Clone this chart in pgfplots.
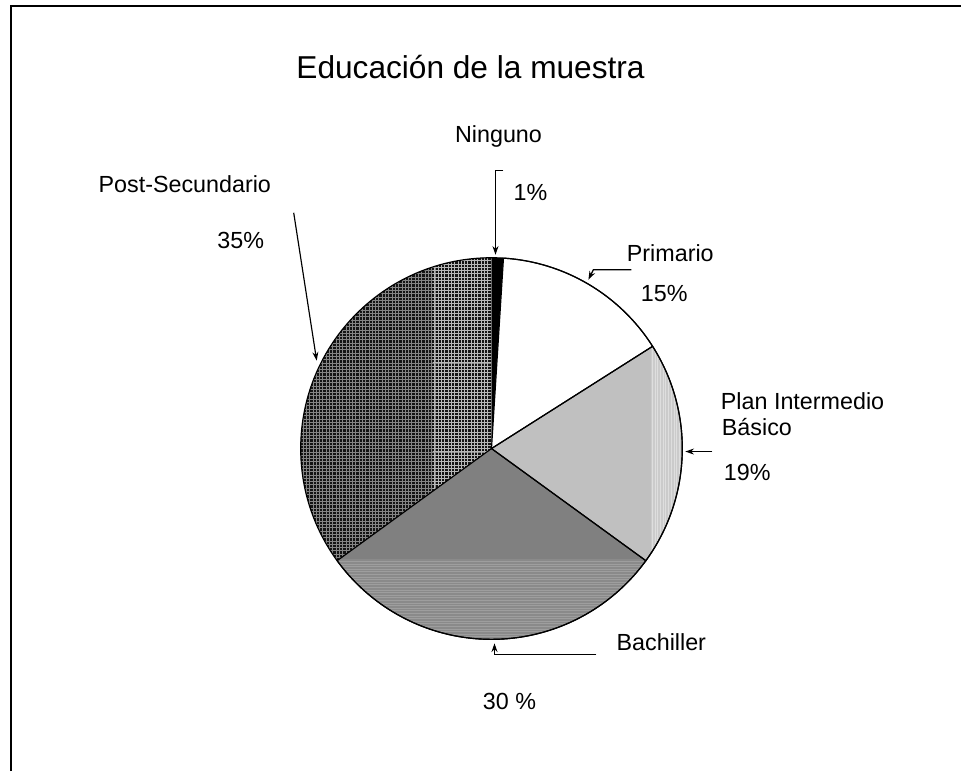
\documentclass[border=0pt]{standalone}
\usepackage{pgfplots}
\pgfplotsset{compat=1.18}
\usepackage{pgfplotstable}
\usepackage{fontspec}
\setmainfont{Liberation Sans}
\usetikzlibrary{arrows.meta}

\pgfplotstableread{
Categoria Porcentaje
Ninguno 1
Primario 15
PlanIntermedio 19
Bachiller 30
PostSecundario 35
}\datos

\definecolor{planG}{HTML}{C0C0C0}
\definecolor{planL}{HTML}{CBCBCB}
\definecolor{bachG}{HTML}{808080}
\definecolor{bachL}{HTML}{8A8A8A}

% pie centre (px, y up) and radius
\def\cx{492}\def\cy{323}\def\rr{191}
\newcommand\slice[2]{(axis cs:\cx,\cy) -- (axis cs:{\cx+\rr*cos(#1)},{\cy+\rr*sin(#1)}) arc[start angle=#1,end angle=#2,radius=57.3pt] -- cycle}
\newcommand\lbl[1]{\fontsize{7pt}{8.4pt}\selectfont #1}

\pgfplotstablegetelem{0}{Porcentaje}\of\datos \let\vA\pgfplotsretval
\pgfplotstablegetelem{1}{Porcentaje}\of\datos \let\vB\pgfplotsretval
\pgfplotstablegetelem{2}{Porcentaje}\of\datos \let\vC\pgfplotsretval
\pgfplotstablegetelem{3}{Porcentaje}\of\datos \let\vD\pgfplotsretval
\pgfplotstablegetelem{4}{Porcentaje}\of\datos \let\vE\pgfplotsretval
\pgfmathsetmacro\aA{90}
\pgfmathsetmacro\aB{\aA-3.6*\vA}
\pgfmathsetmacro\aC{\aB-3.6*\vB}
\pgfmathsetmacro\aD{\aC-3.6*\vC}
\pgfmathsetmacro\aE{\aD-3.6*\vD}
\pgfmathsetmacro\aF{\aE-3.6*\vE}

\begin{document}%
\begin{tikzpicture}
\begin{axis}[
  x=0.3pt, y=0.3pt,
  xmin=0, xmax=962, ymin=0, ymax=772,
  scale only axis, hide axis, clip=false,
]
\fill[white] (axis cs:0,0) rectangle (axis cs:962,772);
% frame (left and top)
\draw[line width=0.6pt] (axis cs:11,0) -- (axis cs:11,766) -- (axis cs:962,766);

% Post-Secundario (cross-hatched)
\begin{scope}
\clip \slice{\aE}{\aF};
\fill[black!92] (axis cs:290,120) rectangle (axis cs:500,530);
\pgfplotsinvokeforeach{0,...,70}{
  \draw[line width=0.2pt,black!48] (axis cs:{300+3.3*#1},120) -- (axis cs:{300+3.3*#1},530);
}
\pgfplotsinvokeforeach{0,...,125}{
  \draw[line width=0.2pt,black!48] (axis cs:290,{125+3.3*#1}) -- (axis cs:500,{125+3.3*#1});
}
\begin{scope}
\clip (axis cs:433,120) rectangle (axis cs:500,530);
\pgfplotsinvokeforeach{0,...,70}{
  \draw[line width=0.22pt,black!28] (axis cs:{300+3.3*#1},120) -- (axis cs:{300+3.3*#1},530);
}
\pgfplotsinvokeforeach{0,...,125}{
  \draw[line width=0.22pt,black!28] (axis cs:290,{125+3.3*#1}) -- (axis cs:500,{125+3.3*#1});
}
\end{scope}
\end{scope}
% Ninguno
\fill[black] \slice{\aA}{\aB};
% Primario
\fill[white] \slice{\aB}{\aC};
% Plan Intermedio
\begin{scope}
\clip \slice{\aC}{\aD};
\fill[planG] (axis cs:480,180) rectangle (axis cs:700,460);
\fill[planL] (axis cs:652,180) rectangle (axis cs:700,460);
\pgfplotsinvokeforeach{0,...,12}{
  \draw[line width=0.2pt,black!13] (axis cs:{653+2.7*#1},180) -- (axis cs:{653+2.7*#1},460);
}
\end{scope}
% Bachiller
\begin{scope}
\clip \slice{\aD}{\aE};
\fill[bachG] (axis cs:300,120) rectangle (axis cs:700,340);
\fill[bachL] (axis cs:300,120) rectangle (axis cs:700,212);
\pgfplotsinvokeforeach{0,...,30}{
  \draw[line width=0.2pt,black!38] (axis cs:300,{132+2.6*#1}) -- (axis cs:700,{132+2.6*#1});
}
\end{scope}
% outlines
\draw[line width=0.35pt] \slice{\aB}{\aC};
\draw[line width=0.35pt] \slice{\aC}{\aD};
\draw[line width=0.35pt] \slice{\aD}{\aE};
\draw[line width=0.35pt] (axis cs:\cx,\cy) circle[radius=57.3pt];

% title
\node[inner sep=0,anchor=base] at (axis cs:471,693) {\fontsize{9.5pt}{11pt}\selectfont Educación de la muestra};

% labels
\node[inner sep=0] at (axis cs:499,635) {\lbl{Ninguno}};
\node[inner sep=0] at (axis cs:531,579) {\lbl{1\%}};
\node[inner sep=0] at (axis cs:185,588) {\lbl{Post-Secundario}};
\node[inner sep=0] at (axis cs:241,531) {\lbl{35\%}};
\node[inner sep=0] at (axis cs:671,519) {\lbl{Primario}};
\node[inner sep=0] at (axis cs:665,478) {\lbl{15\%}};
\node[inner sep=0,anchor=west] at (axis cs:721,370) {\lbl{Plan Intermedio}};
\node[inner sep=0,anchor=west] at (axis cs:722,345) {\lbl{Básico}};
\node[inner sep=0,anchor=west] at (axis cs:724,299) {\lbl{19\%}};
\node[inner sep=0] at (axis cs:662,129) {\lbl{Bachiller}};
\node[inner sep=0] at (axis cs:510,70) {\lbl{30 \%}};

% leader arrows
\tikzset{lead/.style={line width=0.35pt,-{Stealth[length=2.6pt,width=1.8pt]}}}
\draw[lead] (axis cs:504,601) -- (axis cs:496,601) -- (axis cs:496,517);
\draw[lead] (axis cs:632,502) -- (axis cs:594,502) -- (axis cs:589,492);
\draw[lead] (axis cs:713,320) -- (axis cs:686,320);
\draw[lead] (axis cs:597,117) -- (axis cs:495,117) -- (axis cs:495,128);
\draw[lead] (axis cs:294,559) -- (axis cs:317,411);
\end{axis}
\end{tikzpicture}%
\end{document}
